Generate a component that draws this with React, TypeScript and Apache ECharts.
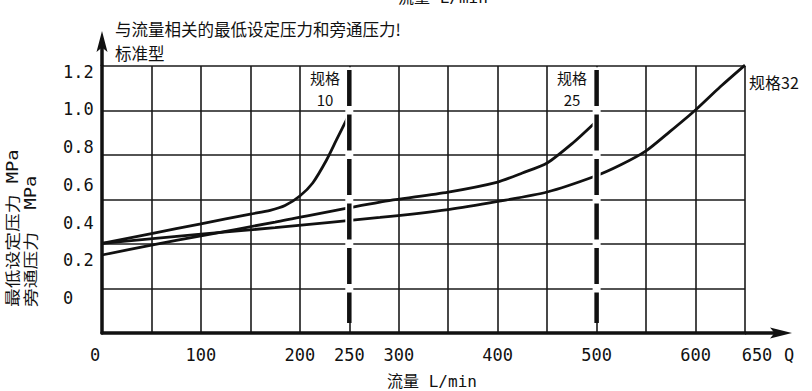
import React, { useEffect, useRef } from "react";
import * as echarts from "echarts";

// ---- data ----
const X_MIN = 0;
const X_MAX = 650;
const X_STEP = 50;
const X_TICK_LABELS = [0, 100, 200, 250, 300, 400, 500, 600, 650];
const Y_LABEL_MIN = 0;
const Y_LABEL_MAX = 1.2;
const Y_LABEL_STEP = 0.2;
const GRID_ROWS = 6;
const SIZE_BOUNDARIES = [250, 500];
const DASH_TOP = 6;
const DASH_BOTTOM = 0.225;

const CURVE_10: [number, number][] = [
  [0, 0.29], [50, 0.342], [100, 0.393], [150, 0.445], [170, 0.465],
  [185, 0.49], [200, 0.541], [213, 0.61], [227, 0.732], [237, 0.838], [250, 0.975],
];
const CURVE_25: [number, number][] = [
  [0, 0.228], [50, 0.281], [100, 0.329], [175, 0.403], [281, 0.509],
  [350, 0.562], [400, 0.615], [425, 0.663], [450, 0.716], [476, 0.822], [498, 0.928],
];
const CURVE_32: [number, number][] = [
  [0, 0.29], [100, 0.339], [175, 0.373], [281, 0.427], [350, 0.469],
  [400, 0.512], [450, 0.562], [499, 0.647], [524, 0.705], [550, 0.78],
  [574, 0.882], [600, 0.997], [625, 1.12], [650, 1.235],
];
const SERIES_NAMES = ["规格10", "规格25", "规格32"];

const CJK = "'Noto Sans CJK SC', 'Noto Sans', sans-serif";
const NUM = "'DejaVu Sans Mono', 'Liberation Mono', monospace";
const MIXED = "'DejaVu Sans Mono', 'Noto Sans CJK SC', monospace";
const INK = "#111";

export default function App() {
  const ref = useRef<HTMLDivElement>(null);
  useEffect(() => {
    if (!ref.current) return;
    const chart = echarts.init(ref.current, undefined, { renderer: "svg" });

    const curveSeries = [CURVE_10, CURVE_25, CURVE_32].map((d, i) => ({
      type: "line",
      name: SERIES_NAMES[i],
      xAxisIndex: 1,
      yAxisIndex: 1,
      data: d,
      clip: false,
      symbol: "none",
      smooth: 0.25,
      lineStyle: { color: INK, width: 2.8 },
      z: 3,
    }));
    const haloSeries = SIZE_BOUNDARIES.map((b) => ({
      type: "line",
      xAxisIndex: 0,
      yAxisIndex: 0,
      data: [[b, DASH_TOP - 0.03], [b, DASH_BOTTOM]],
      symbol: "none",
      silent: true,
      lineStyle: { color: "#fff", width: 8 },
      z: 4,
    }));
    const dashSeries = SIZE_BOUNDARIES.map((b) => ({
      type: "line",
      xAxisIndex: 0,
      yAxisIndex: 0,
      data: [[b, DASH_TOP], [b, DASH_BOTTOM]],
      symbol: "none",
      silent: true,
      lineStyle: { color: INK, width: 4.5, type: [36, 8.5], dashOffset: -3.75, cap: "butt" },
      z: 5,
    }));

    const tickFont = { fontFamily: NUM, fontSize: 17, color: INK };

    chart.setOption({
      animation: false,
      backgroundColor: "#fff",
      grid: [
        { left: 102, right: 67, top: 66, bottom: 58 },
        { left: 102, right: 67, top: 71.7, bottom: 93 },
      ],
      xAxis: [
        {
          gridIndex: 0,
          type: "value",
          min: X_MIN,
          max: X_MAX,
          interval: X_STEP,
          axisLine: { show: true, lineStyle: { color: INK, width: 3.5 } },
          axisTick: { show: false },
          splitLine: { show: true, lineStyle: { color: "#1a1a1a", width: 1.6 } },
          axisLabel: {
            show: true,
            interval: 0,
            showMinLabel: true,
            showMaxLabel: true,
            margin: 13,
            ...tickFont,
            formatter: (v: number) => {
              if (!X_TICK_LABELS.includes(v)) return "";
              if (v === X_MIN) return "{l|" + v + "}";
              if (v === X_MAX) return "{r|" + v + "}";
              return String(v);
            },
            rich: {
              l: { ...tickFont, padding: [0, 14, 0, 0] },
              r: { ...tickFont, padding: [0, 0, 0, 24] },
            },
          },
        },
        { gridIndex: 1, type: "value", min: X_MIN, max: X_MAX, show: false },
      ],
      yAxis: [
        {
          gridIndex: 0,
          type: "value",
          min: 0,
          max: GRID_ROWS,
          interval: 1,
          axisLine: { show: true, lineStyle: { color: INK, width: 3.5 } },
          axisTick: { show: false },
          axisLabel: { show: false },
          splitLine: { show: true, lineStyle: { color: "#1a1a1a", width: 1.6 } },
        },
        {
          gridIndex: 1,
          type: "value",
          min: Y_LABEL_MIN,
          max: Y_LABEL_MAX,
          interval: Y_LABEL_STEP,
          axisLine: { show: false },
          axisTick: { show: false },
          splitLine: { show: false },
          axisLabel: {
            show: true,
            margin: 39,
            align: "left",
            ...tickFont,
            formatter: (v: number) => (Math.abs(v) < 1e-9 ? "0" : v.toFixed(1)),
          },
        },
      ],
      series: [...curveSeries, ...haloSeries, ...dashSeries],
      graphic: [
        // axis extensions and arrows
        { type: "line", shape: { x1: 102, y1: 66, x2: 102, y2: 46 }, style: { stroke: INK, lineWidth: 3.5 }, z: 10 },
        { type: "polygon", shape: { points: [[102, 31], [96.5, 52], [102, 47.5], [107.5, 52]] }, style: { fill: INK }, z: 10 },
        { type: "line", shape: { x1: 745, y1: 333, x2: 776, y2: 333 }, style: { stroke: INK, lineWidth: 3.5 }, z: 10 },
        { type: "polygon", shape: { points: [[792, 333], [770, 327.5], [774.5, 333], [770, 338.5]] }, style: { fill: INK }, z: 10 },
        // titles
        { type: "text", x: 115, y: 17, style: { text: "与流量相关的最低设定压力和旁通压力!\n标准型", fontFamily: CJK, fontSize: 16.5, lineHeight: 24, fill: INK, verticalAlign: "top", align: "left" } },
        { type: "text", x: 398, y: -3, style: { text: "流量 L/min", fontFamily: MIXED, fontSize: 16, fill: INK, verticalAlign: "middle", align: "left" } },
        // size labels
        { type: "text", x: 325, y: 88.5, style: { text: "规格\n10", fontFamily: CJK, fontSize: 15, lineHeight: 22, fill: INK, align: "center", verticalAlign: "middle" } },
        { type: "text", x: 572, y: 88.5, style: { text: "规格\n25", fontFamily: CJK, fontSize: 15, lineHeight: 22, fill: INK, align: "center", verticalAlign: "middle" } },
        { type: "text", x: 749, y: 82, style: { text: "规格32", fontFamily: CJK, fontSize: 16, fill: INK, align: "left", verticalAlign: "middle" } },
        // axis names
        { type: "text", x: 789, y: 355, style: { text: "Q", fontFamily: NUM, fontSize: 17, fill: INK, align: "center", verticalAlign: "middle" } },
        { type: "text", x: 432, y: 381, style: { text: "流量 L/min", fontFamily: MIXED, fontSize: 16, fill: INK, align: "center", verticalAlign: "middle" } },
        { type: "text", x: 13, y: 307, rotation: Math.PI / 2, scaleX: 1.25, style: { text: "最低设定压力 MPa", fontFamily: MIXED, fontSize: 15, fill: INK, align: "left", verticalAlign: "middle" } },
        { type: "text", x: 31, y: 307, rotation: Math.PI / 2, scaleX: 1.25, style: { text: "旁通压力  MPa", fontFamily: MIXED, fontSize: 15, fill: INK, align: "left", verticalAlign: "middle" } },
      ],
    });
    return () => chart.dispose();
  }, []);
  return (
    <div
      ref={ref}
      style={{ position: "absolute", left: 0, top: 0, width: 812, height: 391, background: "#fff" }}
    />
  );
}
